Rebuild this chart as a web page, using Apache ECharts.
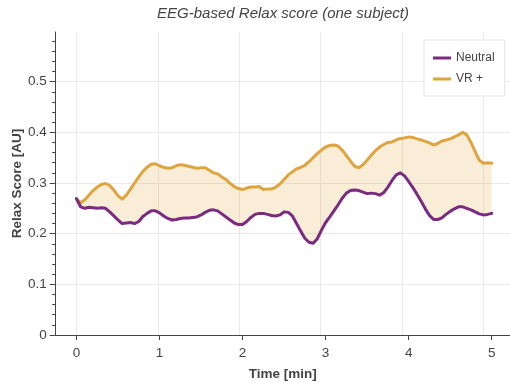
<!DOCTYPE html>
<html>
<head>
<meta charset="utf-8">
<script src="https://cdn.jsdelivr.net/npm/echarts@6/dist/echarts.min.js"></script>
<style>html,body{margin:0;padding:0;background:#fff}#chart{width:510px;height:383px}</style>
</head>
<body>
<div id="chart"></div>
<script>
const timeMin = [
  0.00,0.05,0.10,0.15,0.20,0.25,0.30,0.35,0.40,0.45,
  0.50,0.55,0.60,0.65,0.70,0.75,0.80,0.85,0.90,0.95,
  1.00,1.05,1.10,1.15,1.20,1.25,1.30,1.35,1.40,1.45,
  1.50,1.55,1.60,1.65,1.70,1.75,1.80,1.85,1.90,1.95,
  2.00,2.05,2.10,2.15,2.20,2.25,2.30,2.35,2.40,2.45,
  2.50,2.55,2.60,2.65,2.70,2.75,2.80,2.85,2.90,2.95,
  3.00,3.05,3.10,3.15,3.20,3.25,3.30,3.35,3.40,3.45,
  3.50,3.55,3.60,3.65,3.70,3.75,3.80,3.85,3.90,3.95,
  4.00,4.05,4.10,4.15,4.20,4.25,4.30,4.35,4.40,4.45,
  4.50,4.55,4.60,4.65,4.70,4.75,4.80,4.85,4.90,4.95,
  5.00
];
const neutral = [
  0.269,0.253,0.250,0.252,0.251,0.250,0.251,0.250,0.243,0.235,
  0.227,0.220,0.221,0.222,0.220,0.224,0.234,0.240,0.245,0.245,
  0.241,0.235,0.230,0.227,0.228,0.230,0.231,0.231,0.232,0.233,
  0.237,0.242,0.246,0.247,0.245,0.239,0.233,0.227,0.221,0.218,
  0.218,0.224,0.232,0.238,0.240,0.240,0.238,0.236,0.235,0.237,
  0.243,0.242,0.235,0.220,0.205,0.191,0.183,0.181,0.190,0.207,
  0.222,0.233,0.245,0.257,0.270,0.280,0.285,0.286,0.285,0.282,
  0.279,0.280,0.279,0.276,0.281,0.292,0.305,0.316,0.320,0.314,
  0.303,0.291,0.278,0.264,0.249,0.236,0.228,0.228,0.231,0.238,
  0.244,0.249,0.253,0.253,0.250,0.247,0.243,0.239,0.237,0.238,
  0.240
];
const vrPlus = [
  0.269,0.261,0.267,0.276,0.285,0.292,0.297,0.299,0.295,0.286,
  0.275,0.268,0.276,0.288,0.300,0.312,0.323,0.331,0.337,0.338,
  0.334,0.331,0.329,0.330,0.334,0.336,0.335,0.333,0.331,0.329,
  0.330,0.330,0.325,0.320,0.318,0.312,0.307,0.299,0.293,0.289,
  0.287,0.290,0.292,0.292,0.293,0.287,0.288,0.288,0.292,0.298,
  0.307,0.316,0.322,0.328,0.331,0.335,0.342,0.350,0.358,0.365,
  0.371,0.374,0.375,0.373,0.365,0.354,0.343,0.333,0.330,0.336,
  0.345,0.355,0.364,0.371,0.376,0.380,0.381,0.385,0.388,0.389,
  0.391,0.390,0.387,0.385,0.382,0.379,0.375,0.378,0.383,0.385,
  0.387,0.391,0.395,0.400,0.395,0.380,0.362,0.345,0.339,0.340,
  0.339
];
const xTickValues = [0, 1, 2, 3, 4, 5];
const yTickValues = [0, 0.1, 0.2, 0.3, 0.4, 0.5];
const seriesNames = ['Neutral', 'VR +'];
const titleText = 'EEG-based Relax score (one subject)';
const xAxisTitle = 'Time [min]';
const yAxisTitle = 'Relax Score [AU]';

const FONT = '"Liberation Sans", Arial, Helvetica, sans-serif';
const TEXT = '#444';
const GRIDC = '#e9e9e9';
const C_NEUTRAL = '#7A2A80';
const C_VR = '#DFA43E';
const TITLE_SIZE = 15;
const TITLE_CENTER_X = 283;

// measure title width so it can be centred over the plot area
const ctx = document.createElement('canvas').getContext('2d');
ctx.font = 'italic ' + TITLE_SIZE + 'px ' + FONT;
const titleW = ctx.measureText(titleText).width;

const chart = echarts.init(document.getElementById('chart'), null, {renderer: 'canvas'});
const neutralPts = timeMin.map((t, i) => [t, neutral[i]]);
const vrPts = timeMin.map((t, i) => [t, vrPlus[i]]);

const option = {
  animation: false,
  backgroundColor: '#fff',
  title: {
    text: titleText, left: TITLE_CENTER_X - titleW / 2, top: 6, padding: 0,
    textStyle: {fontFamily: FONT, fontStyle: 'italic', fontWeight: 'normal', fontSize: TITLE_SIZE, color: TEXT}
  },
  legend: {
    data: seriesNames, orient: 'vertical', left: 424, top: 40,
    padding: [12, 10, 11, 9], itemGap: 9, itemWidth: 18, itemHeight: 3, icon: 'rect',
    borderColor: '#e5e5e5', borderWidth: 1, backgroundColor: '#fff',
    textStyle: {fontFamily: FONT, fontSize: 12, color: TEXT}
  },
  grid: {left: 55.7, right: 0, top: 32, bottom: 48, containLabel: false, outerBoundsMode: 'none'},
  xAxis: [
    {
      type: 'value', min: -0.25, max: 5.22, position: 'bottom',
      axisLine: {show: true, onZero: false, lineStyle: {color: TEXT, width: 1}},
      axisTick: {show: true, customValues: xTickValues, length: 5, lineStyle: {color: TEXT}},
      axisLabel: {customValues: xTickValues, margin: 11, fontFamily: FONT, fontSize: 13.5, color: TEXT},
      splitLine: {show: false},
      name: xAxisTitle, nameLocation: 'middle', nameGap: 32, nameMoveOverlap: false,
      nameTextStyle: {fontFamily: FONT, fontWeight: 'bold', fontSize: 13.5, color: TEXT}
    },
    {
      type: 'value', min: -0.2555, max: 5.3256,
      axisLine: {show: false}, axisTick: {show: false}, axisLabel: {show: false},
      splitLine: {show: true, lineStyle: {color: GRIDC, width: 1}}
    }
  ],
  yAxis: {
    type: 'value', min: 0, max: 0.598,
    axisLine: {show: true, onZero: false, lineStyle: {color: TEXT, width: 1}},
    axisTick: {show: true, customValues: yTickValues, length: 6, lineStyle: {color: TEXT}},
    minorTick: {show: true, splitNumber: 5, length: 3.5, lineStyle: {color: TEXT}},
    axisLabel: {customValues: yTickValues, margin: 9, fontFamily: FONT, fontSize: 13.5, color: TEXT,
      formatter: v => (v === 0 ? '0' : v.toFixed(1))},
    splitLine: {show: true, lineStyle: {color: GRIDC, width: 1}},
    minorSplitLine: {show: false},
    name: yAxisTitle, nameLocation: 'middle', nameGap: 31, nameMoveOverlap: false,
    nameTextStyle: {fontFamily: FONT, fontWeight: 'bold', fontSize: 13.5, color: TEXT}
  },
  series: [
    {
      name: 'band', type: 'custom', xAxisIndex: 0, yAxisIndex: 0, silent: true, clip: true, z: 1,
      data: [[0, 0]],
      renderItem: function (params, api) {
        if (params.dataIndex !== 0) return;
        const pts = [];
        for (let i = 0; i < timeMin.length; i++) pts.push(api.coord([timeMin[i], vrPlus[i]]));
        for (let i = timeMin.length - 1; i >= 0; i--) pts.push(api.coord([timeMin[i], neutral[i]]));
        return {type: 'polygon', shape: {points: pts}, style: {fill: 'rgba(223,164,62,0.2)'}, silent: true};
      }
    },
    {
      name: seriesNames[1], type: 'line', xAxisIndex: 0, data: vrPts, symbol: 'none', smooth: false, z: 3,
      lineStyle: {width: 3, color: C_VR, join: 'round', cap: 'round'}, itemStyle: {color: C_VR}
    },
    {
      name: seriesNames[0], type: 'line', xAxisIndex: 0, data: neutralPts, symbol: 'none', smooth: false, z: 4,
      lineStyle: {width: 3, color: C_NEUTRAL, join: 'round', cap: 'round'}, itemStyle: {color: C_NEUTRAL}
    }
  ]
};
chart.setOption(option);
</script>
</body>
</html>
